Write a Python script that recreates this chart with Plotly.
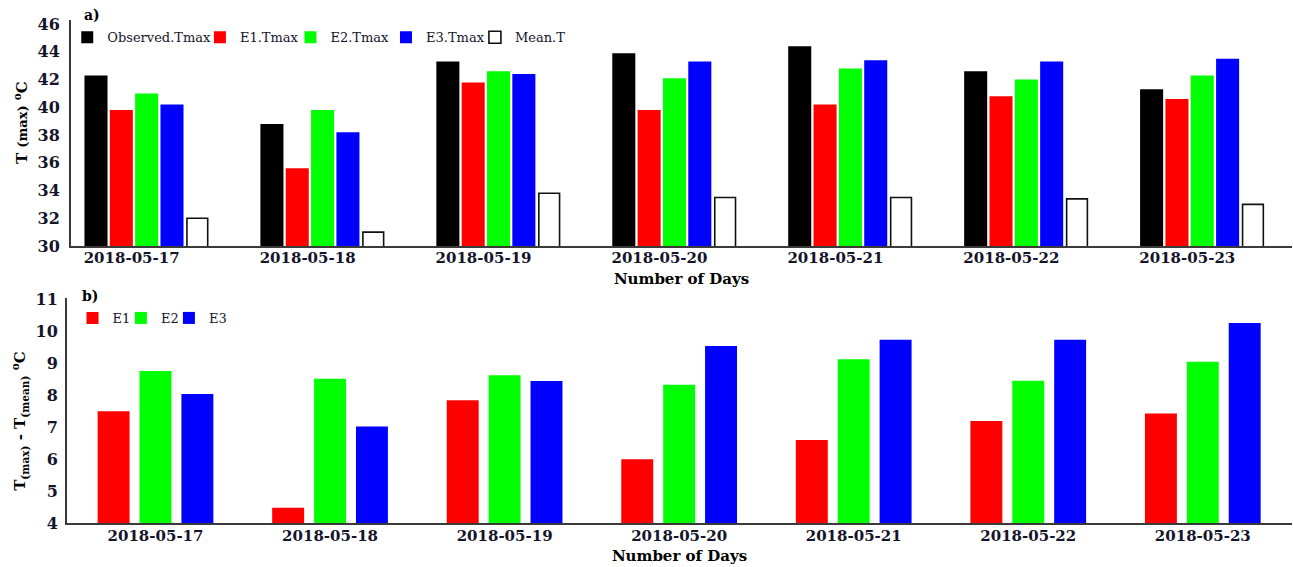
import plotly.graph_objects as go

# Days on the x axis
days = ["2018-05-17", "2018-05-18", "2018-05-19", "2018-05-20",
        "2018-05-21", "2018-05-22", "2018-05-23"]

# Panel a) maximum temperatures and mean temperature (°C)
observed_tmax = [42.3, 38.8, 43.3, 43.9, 44.4, 42.6, 41.3]
e1_tmax = [39.8, 35.6, 41.8, 39.8, 40.2, 40.8, 40.6]
e2_tmax = [41.0, 39.8, 42.6, 42.1, 42.8, 42.0, 42.3]
e3_tmax = [40.2, 38.2, 42.4, 43.3, 43.4, 43.3, 43.5]
mean_t = [32.0, 31.0, 33.8, 33.5, 33.5, 33.4, 33.0]

# Panel b) Tmax - Tmean for each experiment (°C)
e1_diff = [7.50, 4.48, 7.85, 6.00, 6.60, 7.20, 7.43]
e2_diff = [8.76, 8.52, 8.63, 8.33, 9.13, 8.46, 9.05]
e3_diff = [8.04, 7.02, 8.45, 9.55, 9.74, 9.74, 10.27]

BLACK, RED, GREEN, BLUE = "#000000", "#ff0000", "#00ff00", "#0000ff"
SERIF = "DejaVu Serif"
TXT = "#14142a"

fig = go.Figure()

# each series gets its own legend box so the keys sit compactly in a row
top_series = [
    ("Observed.Tmax", observed_tmax, BLACK, "legend"),
    ("E1.Tmax", e1_tmax, RED, "legend2"),
    ("E2.Tmax", e2_tmax, GREEN, "legend3"),
    ("E3.Tmax", e3_tmax, BLUE, "legend4"),
]
for name, vals, col, leg in top_series:
    fig.add_trace(go.Bar(x=days, y=vals, name=name, width=0.131,
                         marker=dict(color=col, line=dict(width=0)),
                         xaxis="x", yaxis="y", legend=leg))
fig.add_trace(go.Bar(x=days, y=mean_t, name="Mean.T", width=0.118,
                     marker=dict(color="#ffffff", line=dict(color="#111111", width=1.6)),
                     xaxis="x", yaxis="y", legend="legend5"))

bottom_series = [("E1", e1_diff, RED, "legend6"),
                 ("E2", e2_diff, GREEN, "legend7"),
                 ("E3", e3_diff, BLUE, "legend8")]
for name, vals, col, leg in bottom_series:
    fig.add_trace(go.Bar(x=days, y=vals, name=name, width=0.183,
                         marker=dict(color=col, line=dict(width=0)),
                         xaxis="x2", yaxis="y2", legend=leg))

axis_line = dict(showline=True, linecolor="#3a3a3a", linewidth=2,
                 showgrid=False, zeroline=False, ticks="")
xtick_font = dict(family=SERIF, size=15, color=TXT, weight="bold")
ytick_font = dict(family=SERIF, size=16, color=TXT, weight="bold")
title_font = dict(family=SERIF, size=15, color="#000000", weight="bold")
legend_font = dict(family=SERIF, size=13, color=TXT)


def key_box(x, y):
    return dict(orientation="h", x=x, y=y, xanchor="left", yanchor="middle",
                font=legend_font, bgcolor="rgba(0,0,0,0)", itemclick=False)


top_keys_x = [0.0002, 0.1085, 0.1824, 0.2604, 0.3330]
bottom_keys_x = [0.0045, 0.0440, 0.0832]
legends = {}
for i, kx in enumerate(top_keys_x + bottom_keys_x):
    ky = 0.9656 if i < len(top_keys_x) else 0.4076
    legends["legend" if i == 0 else f"legend{i + 1}"] = key_box(kx, ky)

fig.update_layout(
    width=1293, height=567,
    margin=dict(l=67, r=1, t=20, b=44),
    paper_bgcolor="white", plot_bgcolor="white",
    barmode="group", bargap=0.28, bargroupgap=0,
    showlegend=True,
    xaxis=dict(type="category", domain=[0.00327, 1], anchor="y", range=[-0.43, 6.51],
               tickfont=xtick_font, ticklabelshift=-15, ticklabelstandoff=-3,
               title=dict(text="Number of Days", font=title_font, standoff=8),
               **axis_line),
    yaxis=dict(domain=[0.5507, 1], anchor="x", range=[30, 46.3], dtick=2,
               tick0=30, tickfont=ytick_font, ticklabelstandoff=6,
               **axis_line),
    xaxis2=dict(type="category", domain=[0, 1], anchor="y2", range=[-0.507, 6.511],
                tickfont=xtick_font, ticklabelstandoff=-2,
                title=dict(text="Number of Days", font=title_font, standoff=6),
                **axis_line),
    yaxis2=dict(domain=[0, 0.4473], anchor="x2", range=[4, 11.05], dtick=1,
                tick0=4, tickfont=ytick_font, ticklabelstandoff=4,
                **axis_line),
    annotations=[
        dict(text="a)", x=0.012, y=1.01, xref="paper", yref="paper",
             xanchor="left", yanchor="middle", showarrow=False,
             font=dict(family=SERIF, size=14, color="#000", weight="bold")),
        dict(text="b)", x=0.011, y=0.452, xref="paper", yref="paper",
             xanchor="left", yanchor="middle", showarrow=False,
             font=dict(family=SERIF, size=14, color="#000", weight="bold")),
        dict(text="T <span style='font-size:13px'>(max)</span> <sup>o</sup>C",
             x=-0.0376, y=0.797, xref="paper", yref="paper", textangle=-90,
             xanchor="center", yanchor="middle", showarrow=False, font=title_font),
        dict(text="T<sub>(max)</sub> - T<sub>(mean)</sub> <sup>o</sup>C",
             x=-0.0384, y=0.203, xref="paper", yref="paper", textangle=-90,
             xanchor="center", yanchor="middle", showarrow=False, font=title_font),
    ],
    **legends,
)

fig.write_html("out.html")
